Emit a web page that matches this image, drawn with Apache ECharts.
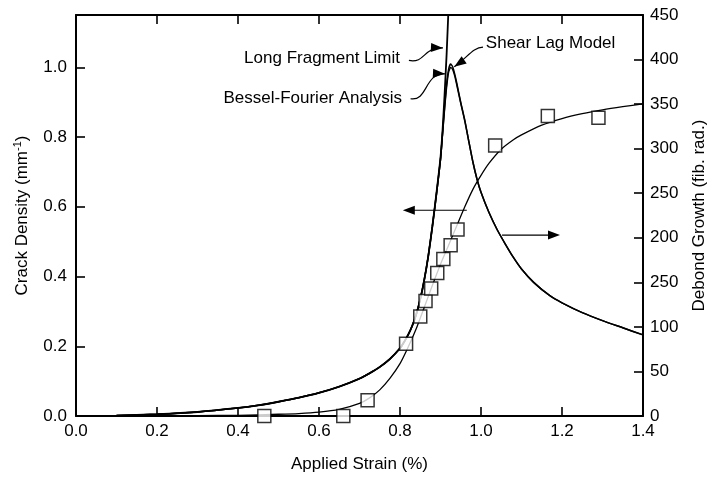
<!DOCTYPE html>
<html>
<head>
<meta charset="utf-8">
<script src="https://cdn.jsdelivr.net/npm/echarts@6/dist/echarts.min.js"></script>
<style>html,body{margin:0;padding:0;background:#fff}#c{width:724px;height:478px}</style>
</head>
<body>
<div id="c"></div>
<script>
// ---- data ----
const xTickLabels = ['0.0','0.2','0.4','0.6','0.8','1.0','1.2','1.4'];
const leftTickLabels = ['0.0','0.2','0.4','0.6','0.8','1.0'];
const rightTickLabels = ['0','50','100','250','200','250','300','350','400','450'];

// Long Fragment Limit (right axis, debond growth)
const lfStrain = [0,0.1,0.2,0.3,0.4,0.45,0.5,0.55,0.6,0.65,0.7,0.725,0.75,0.775,0.8,0.81,0.82,0.83,0.84,0.85,0.86,0.87,0.88,0.89,0.9,0.905,0.91,0.915,0.92];
const lfValues = [0,0.5,2,4.5,9,12,16,20.5,26,33,42,48,55,64,76,83,91,101,114,131,153,180,213,250,290,320,360,405,460];

// Shear Lag Model (right axis)
const slStrain = [0,0.1,0.2,0.3,0.4,0.45,0.5,0.55,0.6,0.65,0.7,0.725,0.75,0.775,0.8,0.81,0.82,0.83,0.84,0.85,0.86,0.87,0.88,0.89,0.9,0.905,0.91,0.915,0.92,0.925,0.93,0.935,0.94,0.95,0.96,0.97,0.98,0.99,1.0,1.02,1.04,1.06,1.08,1.1,1.13,1.17,1.2,1.25,1.3,1.35,1.4];
const slValues = [0,0.5,2,4.5,9,12,16,20.5,26,33,42,48,55,64,76,83,91,101,114,131,153,180,213,249,288,317,346,372,389,395,392,384,374,352,332,308,285,266,251,228,209,193,178,165,150,135,127,116,107,99,91];

// Bessel-Fourier Analysis (right axis)
const bfStrain = [0,0.1,0.2,0.3,0.4,0.45,0.5,0.55,0.6,0.65,0.7,0.725,0.75,0.775,0.8,0.81,0.82,0.83,0.84,0.85,0.86,0.87,0.88,0.89,0.9,0.905,0.91,0.915,0.92,0.925,0.93,0.935,0.94,0.95,0.96,0.97,0.98,0.99,1.0,1.02,1.04,1.06,1.08,1.1,1.13,1.17,1.2,1.25,1.3,1.35,1.4];
const bfValues = [0,0.5,2,4.5,9,12,16,20.5,26,33,42,48,55,64,76,83,91,101,114,131,153,180,213,249,288,316,344,369,386,391,389,382,372,351,331,308,285,266,251,228,209,193,178,165,150,135,127,116,107,99,91];

// Crack density fit (left axis)
const fitStrain = [0,0.2,0.3,0.4,0.5,0.55,0.6,0.65,0.7,0.725,0.75,0.775,0.8,0.82,0.84,0.86,0.88,0.9,0.92,0.94,0.96,0.98,1.0,1.02,1.05,1.08,1.1,1.15,1.2,1.25,1.3,1.35,1.4];
const fitValues = [0,0,0.001,0.002,0.005,0.007,0.011,0.019,0.036,0.052,0.075,0.108,0.15,0.197,0.25,0.312,0.375,0.435,0.49,0.545,0.6,0.65,0.69,0.725,0.765,0.792,0.806,0.834,0.853,0.867,0.878,0.887,0.895];

// Crack density measurements (left axis)
const expStrain = [0.465,0.66,0.72,0.815,0.85,0.863,0.877,0.892,0.907,0.925,0.942,1.035,1.165,1.29];
const expValues = [0.0,0.0,0.045,0.207,0.285,0.33,0.366,0.41,0.45,0.49,0.535,0.776,0.86,0.855];

const annotationTexts = ['Long Fragment Limit','Bessel-Fourier Analysis','Shear Lag Model'];

// ---- chart ----
const FONT = "'Liberation Sans', Arial, Helvetica, sans-serif";
const zip = (a, b) => a.map((v, i) => [v, b[i]]);
const chart = echarts.init(document.getElementById('c'), null, {renderer: 'canvas'});

const axisLineStyle = () => ({show: true, onZero: false, lineStyle: {color: '#000', width: 2}});
const tickStyle = () => ({show: true, inside: true, length: 9, lineStyle: {color: '#000', width: 1.6}});
const labelStyle = {color: '#000', fontSize: 17, fontFamily: FONT};
const lineSmooth = {smooth: 0.2};

const option = {
  animation: false,
  backgroundColor: '#fff',
  grid: {left: 76, right: 81, top: 15, bottom: 57},
  xAxis: [{
    type: 'value', min: 0, max: 1.4, interval: 0.2, position: 'bottom',
    name: 'Applied Strain (%)', nameLocation: 'middle', nameGap: 40,
    nameTextStyle: {color: '#000', fontSize: 17, fontFamily: FONT},
    axisLine: axisLineStyle(),
    axisTick: tickStyle(),
    axisLabel: Object.assign({margin: 7, formatter: (v) => xTickLabels[Math.round(v / 0.2)] || ''}, labelStyle),
    splitLine: {show: false}
  }, {
    type: 'value', min: 0, max: 1.4, interval: 0.2, position: 'top',
    axisLine: axisLineStyle(),
    axisTick: tickStyle(),
    axisLabel: {show: false},
    splitLine: {show: false}
  }],
  yAxis: [{
    type: 'value', min: 0, max: 1.15, interval: 0.2, position: 'left',
    name: 'Crack Density (mm{sup|-1})', nameLocation: 'middle', nameGap: 44, nameRotate: 90,
    nameTextStyle: {color: '#000', fontSize: 17, fontFamily: FONT,
      rich: {sup: {fontSize: 11, fontFamily: FONT, color: '#000', padding: [0, 0, 9, 0]}}},
    axisLine: axisLineStyle(),
    axisTick: tickStyle(),
    axisLabel: Object.assign({margin: 9, showMaxLabel: false, formatter: (v) => {
      const k = Math.round(v / 0.2);
      return Math.abs(v - k * 0.2) < 1e-6 ? (leftTickLabels[k] || '') : '';
    }}, labelStyle),
    splitLine: {show: false}
  }, {
    type: 'value', min: 0, max: 450, interval: 50, position: 'right',
    name: 'Debond Growth (fib. rad.)', nameLocation: 'middle', nameGap: 48, nameRotate: 90,
    nameTextStyle: {color: '#000', fontSize: 17, fontFamily: FONT},
    axisLine: axisLineStyle(),
    axisTick: tickStyle(),
    axisLabel: Object.assign({margin: 7, formatter: (v) => rightTickLabels[Math.round(v / 50)] || ''}, labelStyle),
    splitLine: {show: false}
  }],
  series: [
    Object.assign({name: annotationTexts[0], type: 'line', yAxisIndex: 1, data: zip(lfStrain, lfValues),
     showSymbol: false, lineStyle: {color: '#000', width: 1.8}, clip: true, z: 3}, lineSmooth),
    Object.assign({name: annotationTexts[1], type: 'line', yAxisIndex: 1, data: zip(bfStrain, bfValues),
     showSymbol: false, lineStyle: {color: '#000', width: 1.5}, clip: true, z: 3}, lineSmooth),
    Object.assign({name: annotationTexts[2], type: 'line', yAxisIndex: 1, data: zip(slStrain, slValues),
     showSymbol: false, lineStyle: {color: '#000', width: 1.5}, clip: true, z: 3}, lineSmooth),
    Object.assign({name: 'fit', type: 'line', yAxisIndex: 0, data: zip(fitStrain, fitValues),
     showSymbol: false, lineStyle: {color: '#000', width: 1.3}, clip: true, z: 3}, lineSmooth),
    {name: 'data', type: 'scatter', yAxisIndex: 0, data: zip(expStrain, expValues),
     symbol: 'rect', symbolSize: 13,
     itemStyle: {color: '#fff', borderColor: '#000', borderWidth: 1.5}, z: 5}
  ]
};
chart.setOption(option);

// ---- annotations (anchored in data coordinates) ----
const P = (x, y, yi) => chart.convertToPixel({xAxisIndex: 0, yAxisIndex: yi}, [x, y]);
function head(tip, from, len, half) {
  const dx = tip[0] - from[0], dy = tip[1] - from[1];
  const L = Math.hypot(dx, dy) || 1, ux = dx / L, uy = dy / L;
  const bx = tip[0] - ux * len, by = tip[1] - uy * len;
  return {type: 'polygon', shape: {points: [tip, [bx - uy * half, by + ux * half], [bx + uy * half, by - ux * half]]},
          style: {fill: '#000'}, z: 10};
}
const g = [];
function sArrow(tail, tip, c1, c2) {
  g.push({type: 'bezierCurve', shape: {x1: tail[0], y1: tail[1], cpx1: c1[0], cpy1: c1[1], cpx2: c2[0], cpy2: c2[1], x2: tip[0], y2: tip[1]},
          style: {stroke: '#000', lineWidth: 1.2, fill: null}, z: 10});
  g.push(head(tip, c2, 12, 4.5));
}
function text(str, p, align) {
  g.push({type: 'text', x: p[0], y: p[1], style: {text: str, fill: '#000', font: '17px ' + FONT, align: align, verticalAlign: 'middle'}, z: 10});
}
// Long Fragment Limit
let t = P(0.80, 401, 1); text(annotationTexts[0], [t[0], t[1]], 'right');
let a = P(0.822, 399, 1), b = P(0.906, 413, 1);
sArrow([a[0], a[1]], [b[0], b[1]], [a[0] + (b[0] - a[0]) * 0.5, a[1] + 3], [a[0] + (b[0] - a[0]) * 0.4, b[1] - 1]);
// Bessel-Fourier Analysis
t = P(0.805, 357, 1); text(annotationTexts[1], [t[0], t[1]], 'right');
a = P(0.826, 356, 1); b = P(0.911, 384, 1);
sArrow([a[0], a[1]], [b[0], b[1]], [a[0] + (b[0] - a[0]) * 0.5, a[1] + 3], [a[0] + (b[0] - a[0]) * 0.4, b[1] - 1]);
// Shear Lag Model
t = P(1.012, 418, 1); text(annotationTexts[2], [t[0], t[1]], 'left');
a = P(1.005, 414, 1); b = P(0.934, 392, 1);
sArrow([a[0], a[1]], [b[0], b[1]], [a[0] - 10, a[1]], [b[0] + 13, b[1] - 9]);
// axis indicator arrows
a = P(0.955, 0.59, 0); b = P(0.807, 0.59, 0);
g.push({type: 'line', shape: {x1: a[0] + 4, y1: a[1], x2: b[0] + 6, y2: b[1]}, style: {stroke: '#000', lineWidth: 1.2}, z: 10});
g.push(head([b[0], b[1]], [a[0], a[1]], 12, 4.5));
a = P(1.052, 203, 1); b = P(1.195, 203, 1);
g.push({type: 'line', shape: {x1: a[0], y1: a[1], x2: b[0] - 6, y2: b[1]}, style: {stroke: '#000', lineWidth: 1.2}, z: 10});
g.push(head([b[0], b[1]], [a[0], a[1]], 12, 4.5));
chart.setOption({graphic: {elements: g}});
</script>
</body>
</html>
